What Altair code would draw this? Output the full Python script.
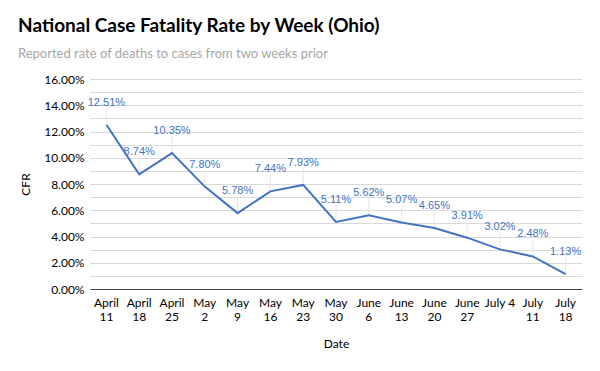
import altair as alt
import pandas as pd

weeks = ["April 11", "April 18", "April 25", "May 2", "May 9", "May 16", "May 23",
         "May 30", "June 6", "June 13", "June 20", "June 27", "July 4", "July 11", "July 18"]
cfr = [12.51, 8.74, 10.35, 7.80, 5.78, 7.44, 7.93, 5.11, 5.62, 5.07, 4.65, 3.91, 3.02, 2.48, 1.13]
y_ticks = [i / 100 for i in range(0, 17)]

df = pd.DataFrame({"week": weeks, "cfr": [v / 100 for v in cfr]})

x = alt.X("week:N", sort=weeks, title="Date",
          scale=alt.Scale(paddingInner=0, paddingOuter=0),
          axis=alt.Axis(labelAngle=0, ticks=False, domainColor="#404040",
                        labelExpr="datum.label == 'July 4' ? 'July 4' : split(datum.label, ' ')",
                        labelFont="Lato", labelFontSize=12, labelColor="#000000",
                        labelPadding=8, titleFont="Lato", titleFontSize=12,
                        titleFontWeight="normal", titlePadding=16, titleColor="#000000"))
y = alt.Y("cfr:Q", title="CFR", scale=alt.Scale(domain=[0, 0.16]),
          axis=alt.Axis(values=y_ticks, domain=False, ticks=False, gridColor="#d9d9d9",
                        labelExpr="round(datum.value*100) % 2 == 0 ? format(datum.value, '.2%') : ''",
                        labelFont="Lato", labelFontSize=12, labelColor="#000000",
                        labelPadding=6, titleFont="Lato", titleFontSize=12,
                        titleFontWeight="normal", titlePadding=11, titleColor="#000000"))

base = alt.Chart(df)

leader = base.transform_calculate(top="datum.cfr + 0.013").mark_rule(
    color="#e6e6e6", strokeWidth=1).encode(x=x, y=y, y2="top:Q")
line = base.mark_line(color="#4472C4", strokeWidth=2).encode(x=x, y=y)
labels = base.mark_text(dy=-22, color="#4472C4", font="Liberation Sans", fontSize=11).encode(
    x=x, y=y, text=alt.Text("cfr:Q", format=".2%"))

chart = alt.layer(leader, line, labels).properties(
    width=492, height=210,
    autosize=alt.AutoSizeParams(type="none"),
    title=alt.TitleParams(
        "National Case Fatality Rate by Week (Ohio)",
        subtitle="Reported rate of deaths to cases from two weeks prior",
        anchor="start", frame="group", dx=-72, font="Lato", fontSize=19, fontWeight="bold",
        color="#000000", subtitleFont="Lato", subtitleFontSize=13, subtitleColor="#a6a6a6",
        subtitlePadding=12, offset=12),
    padding={"left": 82, "top": 71, "right": 10, "bottom": 74},
).configure_view(stroke=None)

chart.save("out.html", embed_options={"renderer": "svg", "actions": False})
